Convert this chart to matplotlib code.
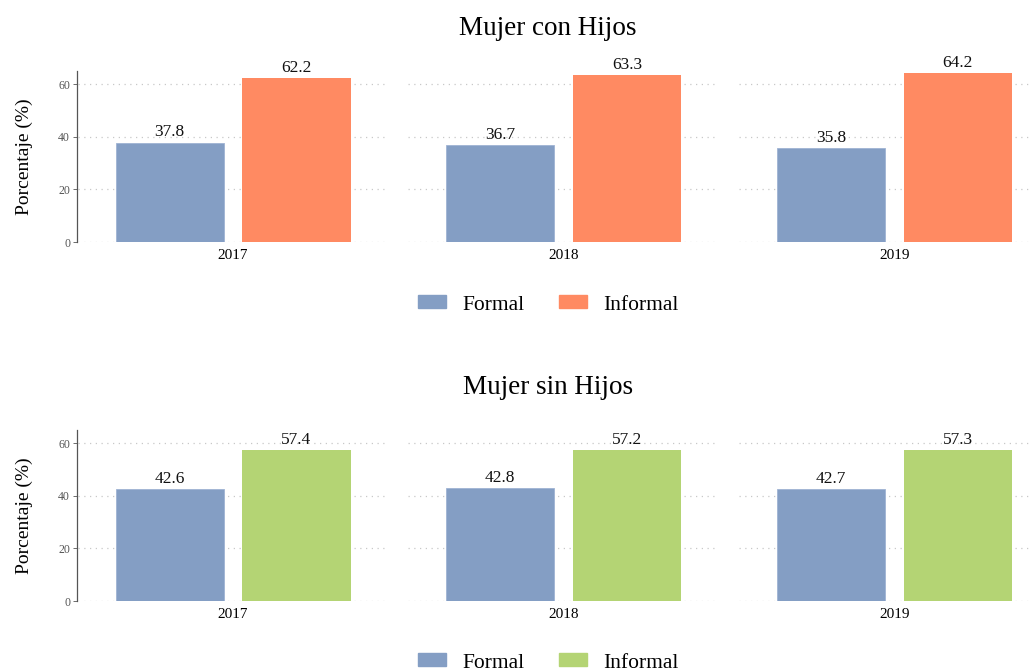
import matplotlib
matplotlib.use('Agg')
from matplotlib import pyplot as plt
from matplotlib.patches import Patch
import numpy as np

plt.rcParams['font.family'] = ['Liberation Serif', 'DejaVu Serif']

years = ['2017', '2018', '2019']
con_formal = [37.8, 36.7, 35.8]
con_informal = [62.2, 63.3, 64.2]
sin_formal = [42.6, 42.8, 42.7]
sin_informal = [57.4, 57.2, 57.3]

c_formal = '#849EC4'
c_orange = '#FF8A62'
c_green = '#B4D474'

fig = plt.figure(figsize=(10.32, 6.71), dpi=100)


def panel(rect, title, formal, informal, c_inf, leg_y):
    ax = fig.add_axes(rect)
    x = np.arange(len(years))
    w = 0.327
    off = 0.192
    b1 = ax.bar(x - off, formal, w, color=c_formal, edgecolor='#9fb3d3', linewidth=0.6, zorder=3)
    b2 = ax.bar(x + off, informal, w, color=c_inf, edgecolor='none', zorder=3)
    for bars, vals in ((b1, formal), (b2, informal)):
        for b, v in zip(bars, vals):
            ax.text(b.get_x() + b.get_width() / 2, v + 0.8, f'{v:.1f}',
                    ha='center', va='bottom', fontsize=12.5, color='#111111')
    # dotted grid, broken between groups
    for g in x:
        for yv in (0, 20, 40, 60):
            ax.plot([g - 0.47, g + 0.46], [yv, yv], ls=(0, (1, 3.6)), color='#c8c8c8',
                    lw=0.9, zorder=1)
    ax.set_xlim(-0.472, 2.41)
    ax.set_ylim(0, 65)
    ax.set_yticks([0, 20, 40, 60])
    ax.tick_params(axis='y', labelsize=8.5, labelcolor='#555555', length=3, width=0.6,
                   color='#555555', pad=2)
    ax.set_xticks(x)
    ax.set_xticklabels(years)
    ax.tick_params(axis='x', length=0, labelsize=11, pad=5)
    for s in ('top', 'right', 'bottom'):
        ax.spines[s].set_visible(False)
    ax.spines['left'].set_color('#555555')
    ax.spines['left'].set_linewidth(0.9)
    ax.set_ylabel('Porcentaje (%)', fontsize=14, labelpad=18)
    ax.set_title(title, fontsize=19.5, pad=26, x=0.494)
    handles = [Patch(color=c_formal, label='Formal'), Patch(color=c_inf, label='Informal')]
    fig.legend(handles=handles, loc='center', bbox_to_anchor=(0.531, leg_y), ncol=2,
               frameon=False, fontsize=15.5, handlelength=1.3, handleheight=0.55,
               columnspacing=1.6, handletextpad=0.75)
    return ax


panel([0.0746, 0.6393, 0.9234, 0.255], 'Mujer con Hijos', con_formal, con_informal,
      c_orange, 1 - 305 / 671)
panel([0.0746, 0.1043, 0.9234, 0.255], 'Mujer sin Hijos', sin_formal, sin_informal,
      c_green, 1 - 663 / 671)

fig.savefig('out.png', dpi=100)
